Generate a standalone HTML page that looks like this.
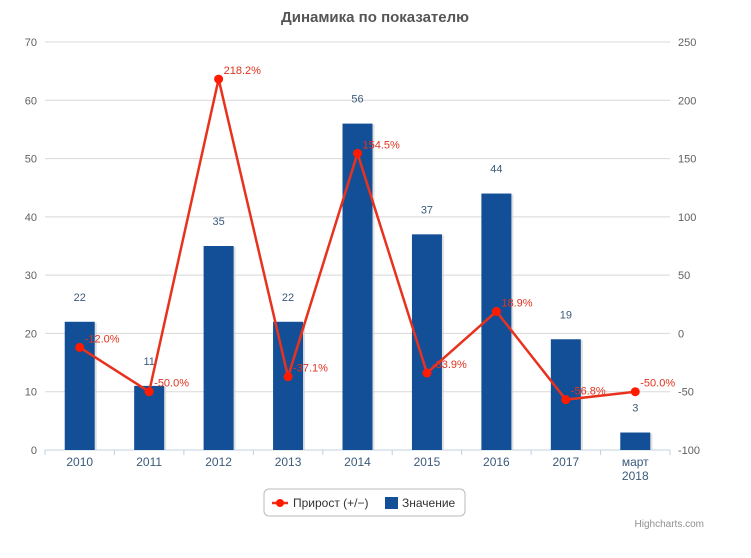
<!DOCTYPE html>
<html><head><meta charset="utf-8"><style>
body{margin:0;background:#fff;width:751px;height:553px;overflow:hidden}
svg{font-family:"Liberation Sans","DejaVu Sans",sans-serif}
</style></head><body>
<svg id="c" width="751" height="553" xmlns="http://www.w3.org/2000/svg"></svg>
<script>
const s=document.getElementById('c');let h='';
const L=45,R=670,T=42,B=450,cw=(R-L)/9;
h+='<text x="375" y="22" text-anchor="middle" font-size="15" font-weight="bold" fill="#555">Динамика по показателю</text>';
for(let i=0;i<=7;i++){const y=B-i*(B-T)/7;
 if(i>0)h+=`<line x1="${L}" x2="${R}" y1="${y}" y2="${y}" stroke="#d8d8d8"/>`;
 h+=`<text x="37" y="${y+4}" text-anchor="end" font-size="11" fill="#606060">${i*10}</text>`;
 h+=`<text x="678" y="${y+4}" font-size="11" fill="#606060">${i*50-100}</text>`;}
h+=`<line x1="${L}" x2="${R}" y1="${B}" y2="${B}" stroke="#c0d0e0"/>`;
const vals=[22,11,35,22,56,37,44,19,3],pct=[-12,-50,218.2,-37.1,154.5,-33.9,18.9,-56.8,-50];
const cats=['2010','2011','2012','2013','2014','2015','2016','2017','март'];
let pts=[];
for(let i=0;i<9;i++){const cx=L+cw*(i+.5),by=B-vals[i]*(B-T)/70;
 h+=`<rect x="${cx-13}" y="${by+1}" width="30" height="${B-by-1}" fill="#ccc" opacity=".6"/>`;
 h+=`<rect x="${cx-15}" y="${by}" width="30" height="${B-by}" fill="#134f97"/>`;
 h+=`<text x="${cx}" y="${by-21}" text-anchor="middle" font-size="11" fill="#3b5a7a">${vals[i]}</text>`;
 h+=`<text x="${cx}" y="466" text-anchor="middle" font-size="12" fill="#3b5a7a">${cats[i]}</text>`;
 if(i<9)h+=`<line x1="${L+cw*i}" x2="${L+cw*i}" y1="${B}" y2="${B+5}" stroke="#c0d0e0"/>`;
 pts.push([cx,B-(pct[i]+100)*(B-T)/350]);}
h+=`<line x1="${R}" x2="${R}" y1="${B}" y2="${B+5}" stroke="#c0d0e0"/>`;
h+=`<text x="${L+cw*8.5}" y="480" text-anchor="middle" font-size="12" fill="#3b5a7a">2018</text>`;
h+=`<polyline points="${pts.map(p=>p.join(',')).join(' ')}" fill="none" stroke="#e8321e" stroke-width="2.5"/>`;
pts.forEach((p,i)=>{h+=`<circle cx="${p[0]}" cy="${p[1]}" r="4.5" fill="#ff1a00"/>`;
 h+=`<text x="${p[0]+5}" y="${p[1]-5}" font-size="11" fill="#e0321e">${pct[i].toFixed(1)}%</text>`;});
h+='<rect x="264" y="489" width="201" height="27" rx="5" fill="#fff" stroke="#bbb"/>';
h+='<line x1="272" x2="288" y1="503" y2="503" stroke="#e8321e" stroke-width="2.5"/><circle cx="280" cy="503" r="4" fill="#ff1a00"/>';
h+='<text x="293" y="507" font-size="12" fill="#333">Прирост (+/−)</text>';
h+='<rect x="385" y="497" width="13" height="12" fill="#134f97"/>';
h+='<text x="402" y="507" font-size="12" fill="#333">Значение</text>';
h+='<text x="704" y="527" text-anchor="end" font-size="10" fill="#909090">Highcharts.com</text>';
s.innerHTML=h;
</script>
</body></html>
